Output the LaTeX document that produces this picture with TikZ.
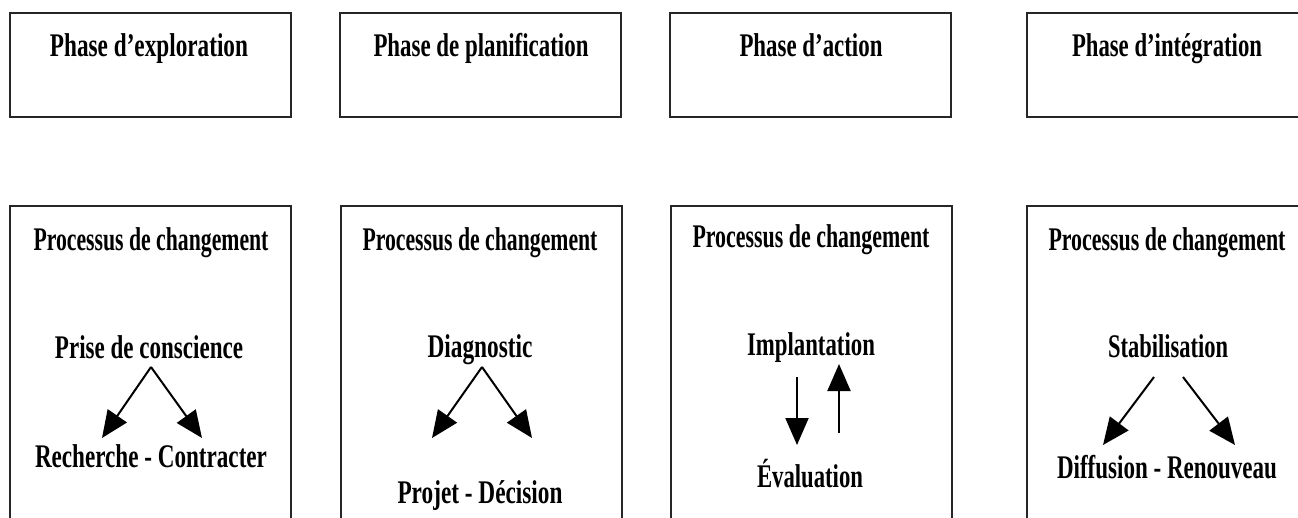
\documentclass[tikz,border=0pt]{standalone}
\usepackage{fontspec}
\setmainfont{Liberation Serif}
\usetikzlibrary{arrows.meta}
% squeeze a label to a given width (in pt), keeping its height
\newcommand\fitw[2]{\resizebox{#1pt}{\height}{#2}}
\begin{document}
\begin{tikzpicture}[x=1pt,y=-1pt,
  phasebox/.style={draw=black!85,line width=2.4pt},
  procbox/.style={draw=black!85,line width=2pt},
  lbl/.style={anchor=base,inner sep=0pt,font=\fontsize{33}{36}\selectfont\bfseries},
  arr/.style={line width=2pt,-{Triangle[length=27pt,width=23pt]}}]
\useasboundingbox (0,0) rectangle (1298,517);

% phase boxes
\draw[phasebox] (10,13) rectangle (291,117);
\draw[phasebox] (340,13) rectangle (621,117);
\draw[phasebox] (670,13) rectangle (951,117);
\draw[phasebox] (1027,13) rectangle (1308,117);

\node[lbl] (ph1) at (149,56) {\fitw{198}{Phase d’exploration}};
\node[lbl] (ph2) at (481,56) {\fitw{215}{Phase de planification}};
\node[lbl] (ph3) at (811,56) {\fitw{143}{Phase d’action}};
\node[lbl] (ph4) at (1167,56) {\fitw{190}{Phase d’intégration}};

% change-process boxes
\draw[procbox] (10,206) rectangle (291,530);
\draw[procbox] (341,206) rectangle (622,530);
\draw[procbox] (671,206) rectangle (952,530);
\draw[procbox] (1027,206) rectangle (1308,530);

\node[lbl] (pr1) at (151,250) {\fitw{235}{Processus de changement}};
\node[lbl] (pr2) at (480,250) {\fitw{235}{Processus de changement}};
\node[lbl] (pr3) at (811,247) {\fitw{237}{Processus de changement}};
\node[lbl] (pr4) at (1167,250) {\fitw{237}{Processus de changement}};

% exploration
\node[lbl] (prise) at (149,358) {\fitw{188}{Prise de conscience}};
\node[lbl] (rech) at (151,467) {\fitw{232}{Recherche - Contracter}};
\coordinate (e0) at (151,367);
\coordinate (e1) at (102,438);
\coordinate (e2) at (202,438);
\draw[arr] (e0) -- (e1);
\draw[arr] (e0) -- (e2);

% planning
\node[lbl] (diag) at (480,357) {\fitw{105}{Diagnostic}};
\node[lbl] (proj) at (480,503) {\fitw{165}{Projet - Décision}};
\coordinate (p0) at (482,367);
\coordinate (p1) at (432,438);
\coordinate (p2) at (532,438);
\draw[arr] (p0) -- (p1);
\draw[arr] (p0) -- (p2);

% action
\node[lbl] (impl) at (811,355) {\fitw{128}{Implantation}};
\node[lbl] (eval) at (810,487) {\fitw{106}{Évaluation}};
\coordinate (a0) at (797,377);
\coordinate (a1) at (797,445);
\coordinate (b0) at (839,433);
\coordinate (b1) at (839,364);
\draw[arr] (a0) -- (a1);
\draw[arr] (b0) -- (b1);

% integration
\node[lbl] (stab) at (1168,357) {\fitw{120}{Stabilisation}};
\node[lbl] (diff) at (1167,478) {\fitw{220}{Diffusion - Renouveau}};
\coordinate (s1) at (1154,377);
\coordinate (s2) at (1103,445);
\coordinate (s3) at (1183,377);
\coordinate (s4) at (1235,445);
\draw[arr] (s1) -- (s2);
\draw[arr] (s3) -- (s4);
\end{tikzpicture}
\end{document}
